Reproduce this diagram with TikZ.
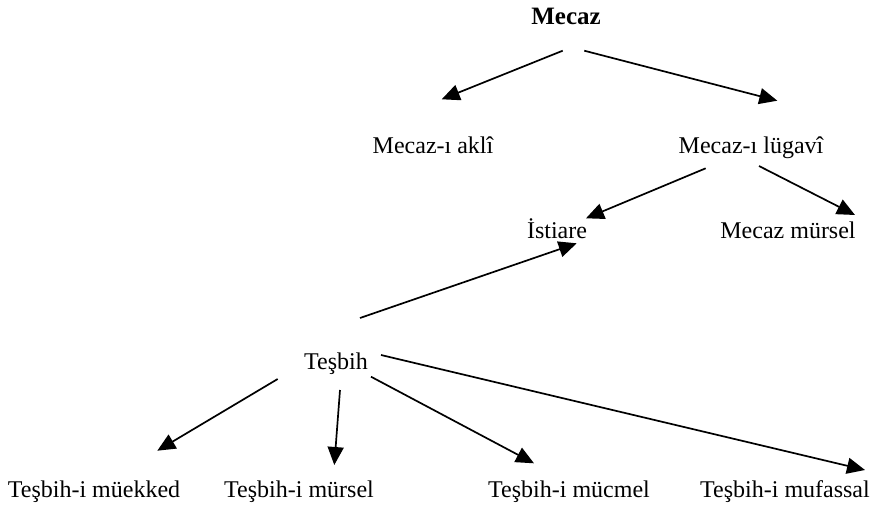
\documentclass[tikz,border=0pt]{standalone}
\usepackage{fontspec}
\setmainfont{Liberation Serif}
\usetikzlibrary{arrows.meta}
\begin{document}
\begin{tikzpicture}[x=1pt,y=-1pt,
  lbl/.style={anchor=base,inner sep=0pt,font=\fontsize{24}{27}\selectfont},
  arr/.style={line width=1.7pt,-{Triangle[length=18pt,width=16pt]}}]
\useasboundingbox (0,0) rectangle (871,509);
\node[lbl,font=\fontsize{25}{27}\selectfont\bfseries] (mecaz) at (566,24) {Mecaz};
\node[lbl] (akli) at (433,153) {Mecaz-ı aklî};
\node[lbl] (lugavi) at (751,153) {Mecaz-ı lügavî};
\node[lbl] (istiare) at (557,238) {İstiare};
\node[lbl] (mursel) at (788,238) {Mecaz mürsel};
\node[lbl] (tesbih) at (336,369) {Teşbih};
\node[lbl] (mueekked) at (94,497) {Teşbih-i müekked};
\node[lbl] (tmursel) at (299,497) {Teşbih-i mürsel};
\node[lbl] (mucmel) at (569,497) {Teşbih-i mücmel};
\node[lbl] (mufassal) at (785,497) {Teşbih-i mufassal};
% arrow end points
\coordinate (a1s) at (562.7,50.7);  \coordinate (a1e) at (441.7,99.3);
\coordinate (a2s) at (584.3,50.7);  \coordinate (a2e) at (777.3,100.7);
\coordinate (a3s) at (705.7,168.3); \coordinate (a3e) at (586,218.3);
\coordinate (a4s) at (759,166);     \coordinate (a4e) at (855,215);
\coordinate (a5s) at (360,318);     \coordinate (a5e) at (576.7,243.3);
\coordinate (a6s) at (277.7,379);   \coordinate (a6e) at (157.3,450.7);
\coordinate (a7s) at (340,390);     \coordinate (a7e) at (334.3,465);
\coordinate (a8s) at (371,376.7);   \coordinate (a8e) at (534,463.3);
\coordinate (a9s) at (381,355);     \coordinate (a9e) at (865,470);
\draw[arr] (a1s) -- (a1e);
\draw[arr] (a2s) -- (a2e);
\draw[arr] (a3s) -- (a3e);
\draw[arr] (a4s) -- (a4e);
\draw[arr] (a5s) -- (a5e);
\draw[arr] (a6s) -- (a6e);
\draw[arr] (a7s) -- (a7e);
\draw[arr] (a8s) -- (a8e);
\draw[arr] (a9s) -- (a9e);
\end{tikzpicture}
\end{document}
